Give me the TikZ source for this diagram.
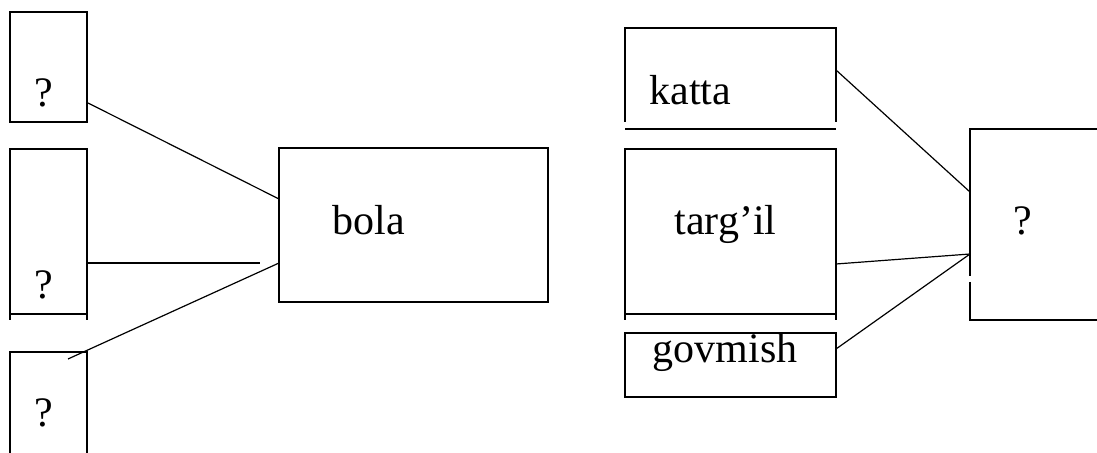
\documentclass[tikz,border=0pt]{standalone}
\usepackage{fontspec}
\setmainfont{Liberation Serif}
\begin{document}
\begin{tikzpicture}[x=1bp,y=-1bp,line width=1.3bp,
  lbl/.style={anchor=base west,inner sep=0pt,font=\fontsize{42bp}{48bp}\selectfont},
  conn/.style={line width=1.2bp}]
\useasboundingbox (0,0) rectangle (1097,453);
% left boxes
\draw (10,122) -- (10,12) -- (87,12) -- (87,122) -- cycle;
\draw (10,320) -- (10,149) -- (87,149) -- (87,320) (10,314) -- (87,314);
\draw (10,453) -- (10,352) -- (87,352) -- (87,453);
% bola box
\draw (279,148) rectangle (548,302);
% right column
\draw (625,122) -- (625,28) -- (836,28) -- (836,122) (625,129) -- (836,129);
\draw (625,320) -- (625,149) -- (836,149) -- (836,320) (625,314) -- (836,314);
\draw (625,333) rectangle (836,397);
% right ? box
\draw (1097,129) -- (970,129) -- (970,276) (970,282) -- (970,320) -- (1097,320);
% texts
\node[lbl] (q1) at (34,107) {?};
\node[lbl] (q2) at (34,299) {?};
\node[lbl] (q3) at (34,427) {?};
\node[lbl] (bola) at (332,235) {bola};
\node[lbl] (katta) at (649,105) {katta};
\node[lbl] (targil) at (674,235) {targ’il};
\node[lbl] (govmish) at (652,363) {govmish};
\node[lbl] (q4) at (1013,235) {?};
% connector ends
\coordinate (a1) at (88,103);
\coordinate (a2) at (87,263);
\coordinate (a3) at (68,359);
\coordinate (b1) at (279,199);
\coordinate (b2) at (260,263);
\coordinate (b3) at (279,263);
\coordinate (c1) at (836,70);
\coordinate (c2) at (836,264);
\coordinate (c3) at (836,349);
\coordinate (d1) at (970,192);
\coordinate (d2) at (970,254);
\draw[conn] (a1) -- (b1);
\draw[conn] (a2) -- (b2);
\draw[conn] (a3) -- (b3);
\draw[conn] (c1) -- (d1);
\draw[conn] (c2) -- (d2);
\draw[conn] (c3) -- (d2);
\end{tikzpicture}
\end{document}
